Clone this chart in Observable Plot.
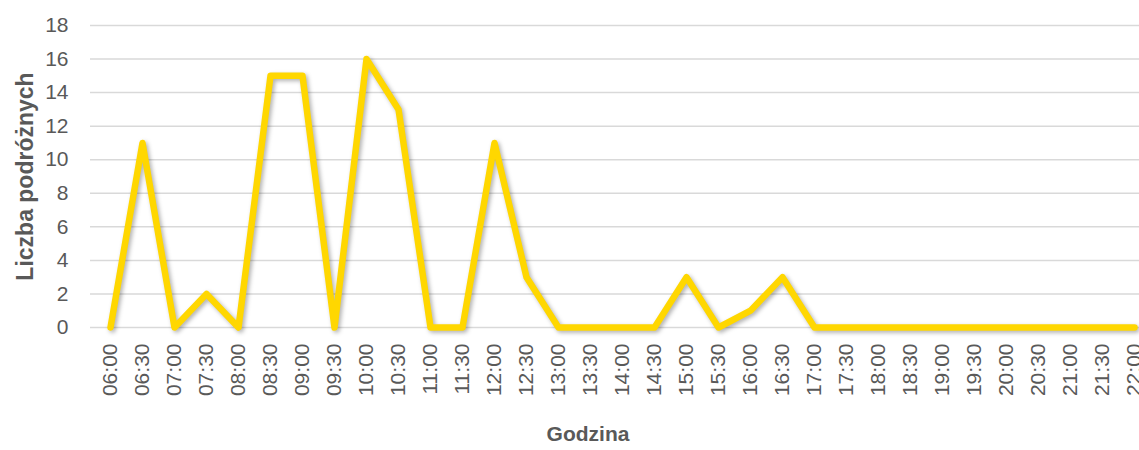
<!DOCTYPE html>
<html><head><meta charset="utf-8">
<script src="https://cdn.jsdelivr.net/npm/d3@7"></script>
<script src="https://cdn.jsdelivr.net/npm/@observablehq/plot@0.6"></script>
<style>
body{margin:0;background:#fff;}
svg{font-family:"Liberation Sans Narrow","Arial Narrow","Liberation Sans",Arial,sans-serif;}
</style>
</head><body>
<div id="chart"></div>
<script>
const times = ["06:00","06:30","07:00","07:30","08:00","08:30","09:00","09:30","10:00","10:30","11:00","11:30","12:00","12:30","13:00","13:30","14:00","14:30","15:00","15:30","16:00","16:30","17:00","17:30","18:00","18:30","19:00","19:30","20:00","20:30","21:00","21:30","22:00"];
const values = [0,11,0,2,0,15,15,0,16,13,0,0,11,3,0,0,0,0,3,0,1,3,0,0,0,0,0,0,0,0,0,0,0];
const yTicks = [0,2,4,6,8,10,12,14,16,18];
const xLabel = "Godzina";
const yLabel = "Liczba podróżnych";

const data = times.map((t,i)=>({t, v: values[i]}));
const FONT = "'Liberation Sans Narrow','Arial Narrow','Liberation Sans',Arial,sans-serif";

const chart = Plot.plot({
  width: 1139,
  height: 450,
  marginLeft: 90,
  marginRight: 0,
  marginTop: 25,
  marginBottom: 123,
  style: {fontFamily: FONT, color: "#595959", background: "#fff"},
  x: {type: "point", domain: times, range: [106, 1137], padding: 0},
  y: {domain: [0, 18]},
  marks: [
    Plot.ruleY(yTicks, {stroke: "#d9d9d9", strokeWidth: 1.5}),
    Plot.axisY(yTicks, {tickSize: 0, tickPadding: 22, fontSize: 21, fill: "#595959", label: null}),
    Plot.axisX({tickSize: 0, tickPadding: 16, tickRotate: -90, fontSize: 21, fill: "#595959", label: null}),
    Plot.line(data, {x: "t", y: "v", stroke: "#FFD700", strokeWidth: 6.5, strokeLinejoin: "round", strokeLinecap: "round"}),
    Plot.text([xLabel], {text: d=>d, frameAnchor: "bottom", dx: -27, dy: 113, fontSize: 21, fontWeight: "bold", fill: "#595959"}),
    Plot.text([yLabel], {text: d=>d, frameAnchor: "left", textAnchor: "middle", dx: -65, rotate: -90, fontSize: 23, fontWeight: "bold", fill: "#595959"})
  ]
});
d3.select(chart).selectAll("g[aria-label='line'] path").style("filter", "drop-shadow(2px 2px 2px rgba(0,0,0,0.3))");
document.getElementById("chart").appendChild(chart);
</script>
</body></html>
